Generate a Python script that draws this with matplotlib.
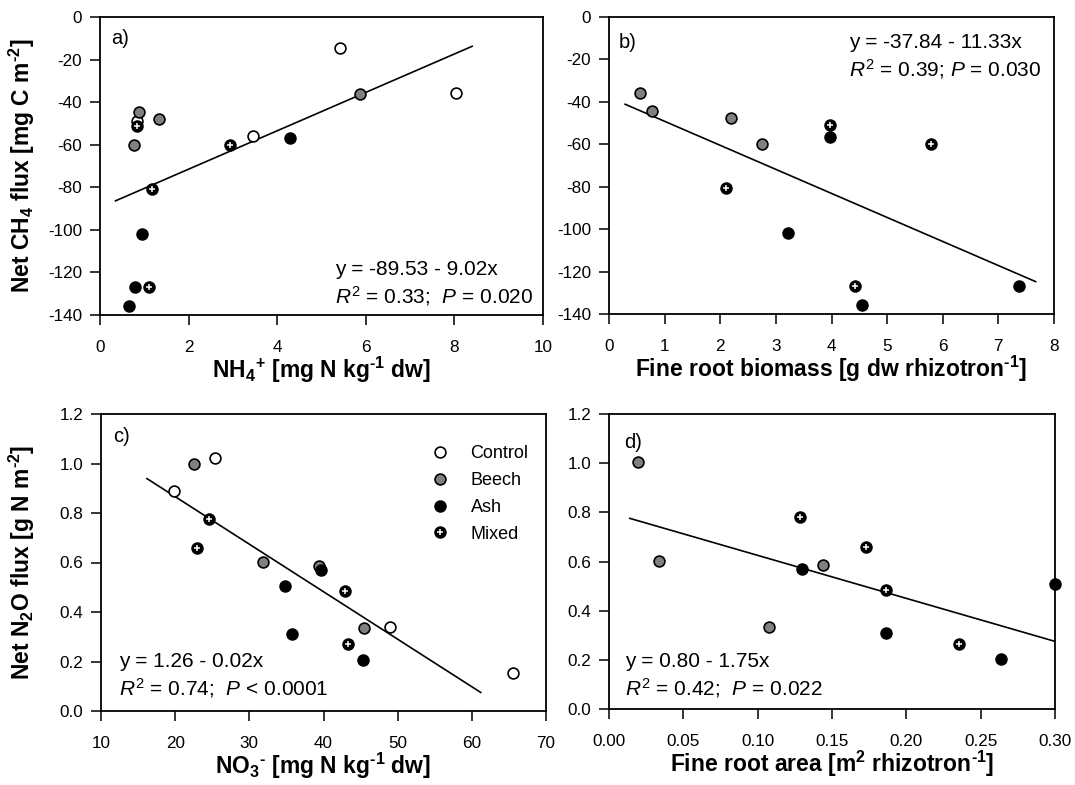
import matplotlib
matplotlib.use("Agg")
import matplotlib.pyplot as plt
import numpy as np
from matplotlib.lines import Line2D

plt.rcParams['font.family'] = ['Liberation Sans', 'DejaVu Sans']
plt.rcParams['mathtext.fontset'] = 'custom'
plt.rcParams['mathtext.rm'] = 'Liberation Sans'
plt.rcParams['mathtext.it'] = 'Liberation Sans:italic'
plt.rcParams['mathtext.bf'] = 'Liberation Sans:bold'
plt.rcParams['axes.unicode_minus'] = False

# ---------------- data ----------------
groups = ["Control", "Beech", "Ash", "Mixed"]

# panel a: NH4+ vs CH4 flux
a_control_x = [5.42, 8.04, 0.83, 3.46]
a_control_y = [-14.7, -35.9, -48.7, -55.9]
a_beech_x = [5.87, 0.88, 1.34, 0.76]
a_beech_y = [-36.2, -44.6, -47.8, -60.1]
a_ash_x = [4.28, 0.95, 0.79, 0.65]
a_ash_y = [-56.7, -101.9, -126.7, -135.8]
a_mixed_x = [0.84, 2.93, 1.18, 1.11]
a_mixed_y = [-51.2, -60.1, -80.6, -126.7]

# panel b: fine root biomass vs CH4 flux
b_beech_x = [0.56, 0.77, 2.19, 2.75]
b_beech_y = [-35.8, -44.3, -47.6, -60.1]
b_ash_x = [3.98, 3.21, 4.55, 7.37]
b_ash_y = [-56.6, -101.8, -135.9, -126.8]
b_mixed_x = [3.97, 5.79, 2.11, 4.43]
b_mixed_y = [-51.1, -60.1, -80.6, -126.8]

# panel c: NO3- vs N2O flux
c_control_x = [25.4, 19.8, 48.9, 65.6]
c_control_y = [1.023, 0.89, 0.341, 0.152]
c_beech_x = [22.6, 31.8, 39.4, 45.4]
c_beech_y = [0.998, 0.603, 0.587, 0.335]
c_ash_x = [39.7, 34.8, 35.8, 45.3]
c_ash_y = [0.57, 0.506, 0.311, 0.206]
c_mixed_x = [24.5, 23.0, 42.9, 43.3]
c_mixed_y = [0.777, 0.657, 0.486, 0.269]

# panel d: fine root area vs N2O flux
d_beech_x = [0.0198, 0.0335, 0.144, 0.1073]
d_beech_y = [1.003, 0.604, 0.585, 0.333]
d_ash_x = [0.1296, 0.30, 0.1866, 0.264]
d_ash_y = [0.571, 0.508, 0.309, 0.202]
d_mixed_x = [0.1287, 0.1727, 0.1866, 0.2354]
d_mixed_y = [0.779, 0.661, 0.486, 0.265]

# regression lines: (intercept, slope, x start, x end)
a_fit = (-89.53, 9.02, 0.35, 8.4)
b_fit = (-37.84, -11.33, 0.29, 7.67)
c_fit = (1.25, -0.0192, 16.2, 61.2)
d_fit = (0.80, -1.75, 0.014, 0.30)

a_eq = "y = -89.53 - 9.02x\n$R^2$ = 0.33;  $P$ = 0.020"
b_eq = "y = -37.84 - 11.33x\n$R^2$ = 0.39; $P$ = 0.030"
c_eq = "y = 1.26 - 0.02x\n$R^2$ = 0.74;  $P$ < 0.0001"
d_eq = "y = 0.80 - 1.75x\n$R^2$ = 0.42;  $P$ = 0.022"

a_xticks = [0, 2, 4, 6, 8, 10]
ch4_yticks = [0, -20, -40, -60, -80, -100, -120, -140]
b_xticks = [0, 1, 2, 3, 4, 5, 6, 7, 8]
c_xticks = [10, 20, 30, 40, 50, 60, 70]
n2o_yticks = [0.0, 0.2, 0.4, 0.6, 0.8, 1.0, 1.2]
d_xticks = [0.00, 0.05, 0.10, 0.15, 0.20, 0.25, 0.30]

# ---------------- style ----------------
W, H = 1075, 785
fig = plt.figure(figsize=(W / 100, H / 100), dpi=100)

MS = 7.8
style = {
    "Control": dict(mfc="white", mec="black"),
    "Beech": dict(mfc="#808080", mec="black"),
    "Ash": dict(mfc="black", mec="black"),
    "Mixed": dict(mfc="black", mec="black"),
}


def pix_axes(l, t, r, b):
    return fig.add_axes([l / W, 1 - b / H, (r - l) / W, (b - t) / H])


def scatter(ax, x, y, grp):
    ax.plot(x, y, ls="none", marker="o", ms=MS, mew=1.2, clip_on=False,
            zorder=4, **style[grp])
    if grp == "Mixed":
        ax.plot(x, y, ls="none", marker="+", ms=4.0, mew=1.1, color="white",
                clip_on=False, zorder=5)


def fitline(ax, fit):
    i, s, x0, x1 = fit
    xx = np.array([x0, x1])
    ax.plot(xx, i + s * xx, color="black", lw=1.2, zorder=3)


LABEL_FS = 16.5
HY = "\u2010"  # short hyphen for superscripts


def setup(ax, xlim, xticks, ylim, yticks, xfmt, yfmt, xlabel, ylabel=None):
    ax.set_xlim(*xlim)
    ax.set_ylim(*ylim)
    ax.set_xticks(xticks)
    ax.set_yticks(yticks)
    ax.set_xticklabels([xfmt.format(v) for v in xticks])
    ax.set_yticklabels([yfmt.format(v) for v in yticks])
    ax.tick_params(direction="out", length=7.2, width=1.1, labelsize=12.3,
                   top=False, right=False)
    ax.tick_params(axis="x", pad=10.5)
    ax.tick_params(axis="y", pad=5.5)
    for sp in ax.spines.values():
        sp.set_linewidth(1.3)
    ax.set_xlabel(xlabel, fontsize=LABEL_FS, fontweight="bold", labelpad=0.5)
    if ylabel:
        ax.set_ylabel(ylabel, fontsize=LABEL_FS, fontweight="bold")


def ftext(x, y, s, **kw):
    fig.text(x / W, 1 - y / H, s, **kw)


# panel a
axa = pix_axes(100, 17, 543, 315)
fitline(axa, a_fit)
scatter(axa, a_control_x, a_control_y, "Control")
scatter(axa, a_beech_x, a_beech_y, "Beech")
scatter(axa, a_ash_x, a_ash_y, "Ash")
scatter(axa, a_mixed_x, a_mixed_y, "Mixed")
setup(axa, (0, 10), a_xticks, (-140, 0), ch4_yticks, "{:d}", "{:d}",
      r"NH$_\mathbf{4}$$^\mathbf{+}$ [mg N kg$^\mathbf{" + HY + r"1}$ dw]",
      r"Net CH$_\mathbf{4}$ flux [mg C m$^\mathbf{" + HY + r"2}$]")

# panel b
axb = pix_axes(609, 17, 1054, 314)
fitline(axb, b_fit)
scatter(axb, b_beech_x, b_beech_y, "Beech")
scatter(axb, b_ash_x, b_ash_y, "Ash")
scatter(axb, b_mixed_x, b_mixed_y, "Mixed")
setup(axb, (0, 8), b_xticks, (-140, 0), ch4_yticks, "{:d}", "{:d}",
      r"Fine root biomass [g dw rhizotron$^\mathbf{" + HY + r"1}$]")

# panel c
axc = pix_axes(101, 414, 546, 711)
fitline(axc, c_fit)
scatter(axc, c_control_x, c_control_y, "Control")
scatter(axc, c_beech_x, c_beech_y, "Beech")
scatter(axc, c_ash_x, c_ash_y, "Ash")
scatter(axc, c_mixed_x, c_mixed_y, "Mixed")
setup(axc, (10, 70), c_xticks, (0, 1.2), n2o_yticks, "{:d}", "{:.1f}",
      r"NO$_\mathbf{3}$$^\mathbf{" + HY + r"}$ [mg N kg$^\mathbf{" + HY + r"1}$ dw]",
      r"Net N$_\mathbf{2}$O flux [g N m$^\mathbf{" + HY + r"2}$]")

# panel d
axd = pix_axes(609, 414, 1055, 709)
fitline(axd, d_fit)
scatter(axd, d_beech_x, d_beech_y, "Beech")
scatter(axd, d_ash_x, d_ash_y, "Ash")
scatter(axd, d_mixed_x, d_mixed_y, "Mixed")
setup(axd, (0, 0.30), d_xticks, (0, 1.2), n2o_yticks, "{:.2f}", "{:.1f}",
      r"Fine root area [m$^\mathbf{2}$ rhizotron$^\mathbf{" + HY + r"1}$]")

# align y labels (x coord = right edge of rotated label)
axa.yaxis.set_label_coords(-63 / 443, 0.5)
axc.yaxis.set_label_coords(-64 / 445, 0.5)

# legend in panel c
handles = []
for g in groups:
    h = Line2D([], [], ls="none", marker="o", ms=MS, mew=1.2, **style[g])
    if g == "Mixed":
        h2 = Line2D([], [], ls="none", marker="+", ms=4.0, mew=1.1, color="white")
        h = (h, h2)
    handles.append(h)
axc.legend(handles, groups, loc="upper left", bbox_to_anchor=(0.725, 0.92),
           frameon=False, fontsize=13, handlelength=1.0, handletextpad=1.2,
           labelspacing=0.55, borderaxespad=0)

# panel letters
LET_FS = 14.5
ftext(111, 38, "a)", fontsize=LET_FS, va="center", ha="left")
ftext(619, 42, "b)", fontsize=LET_FS, va="center", ha="left")
ftext(113, 437, "c)", fontsize=LET_FS, va="center", ha="left")
ftext(624, 442, "d)", fontsize=LET_FS, va="center", ha="left")

# equations
eq_kw = dict(fontsize=15, va="center", ha="left", linespacing=1.22)
ftext(335, 284, a_eq, **eq_kw)
ftext(849, 57, b_eq, **eq_kw)
ftext(119, 676, c_eq, **eq_kw)
ftext(625, 676, d_eq, **eq_kw)

fig.savefig("out.png", dpi=100)
